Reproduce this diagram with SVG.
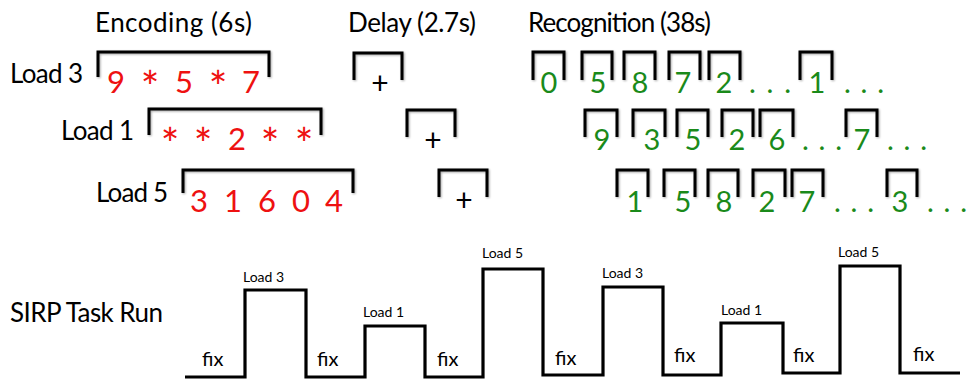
<svg xmlns="http://www.w3.org/2000/svg" width="971" height="384" viewBox="0 0 971 384">
<defs>
<filter id="sh" x="-20%" y="-20%" width="140%" height="140%">
<feGaussianBlur in="SourceAlpha" stdDeviation="1.2"/>
<feOffset dx="0.5" dy="1" result="b"/>
<feComponentTransfer><feFuncA type="linear" slope="0.35"/></feComponentTransfer>
<feMerge><feMergeNode/><feMergeNode in="SourceGraphic"/></feMerge>
</filter>
</defs>
<style>
text{font-family:Lato,"Open Sans","Liberation Sans",sans-serif}
.t{font-size:26px;fill:#000}
.ld{font-size:26px;fill:#000}
.r{font-size:31px;fill:#ee1111;text-anchor:middle}
.a{font-size:44px;fill:#ee1111;text-anchor:middle}
.g{font-size:29px;fill:#1a8a1a;text-anchor:middle}
.gd{font-size:29px;fill:#1a8a1a}
.p{font-size:30px;fill:#000;text-anchor:middle}
.br{fill:none;stroke:#000;stroke-width:3;filter:url(#sh)}
.w{fill:none;stroke:#000;stroke-width:3.2;stroke-linejoin:miter}
.sl{font-size:14px;fill:#000}
.fx{font-size:20px;fill:#000}
</style>
<rect width="971" height="384" fill="#fff"/>

<g id="titles">
<text class="t" x="95" y="32" textLength="157">Encoding (6s)</text>
<text class="t" x="348" y="32" textLength="128">Delay (2.7s)</text>
<text class="t" x="528" y="32" textLength="183">Recognition (38s)</text>
</g>

<g id="load3-row">
<text class="ld" x="10" y="83" textLength="73">Load 3</text>
<path class="br" d="M98 77V52H269V77"/>
<text class="r" x="116" y="93">9</text><text class="a" x="150" y="103">*</text><text class="r" x="184" y="93">5</text><text class="a" x="218" y="103">*</text><text class="r" x="251" y="93">7</text>
<path class="br" d="M354 80V53H402V80"/>
<text class="p" x="380" y="94">+</text>
<path class="br" d="M533 80V52H564V80M582 80V52H612V80M624 80V52H655V80M669 80V52H700V80M709 80V52H740V80M800 80V52H832V80"/>
<text class="g" x="549" y="93">0</text><text class="g" x="598" y="93">5</text><text class="g" x="640" y="93">8</text><text class="g" x="683" y="93">7</text><text class="g" x="724" y="93">2</text><text class="g" x="817" y="93">1</text>
<text class="gd" x="749" y="93" textLength="42">. . .</text>
<text class="gd" x="844" y="93" textLength="40">. . .</text>
</g>

<g id="load1-row">
<text class="ld" x="61" y="140" textLength="73">Load 1</text>
<path class="br" d="M149 135V109H321V135"/>
<text class="a" x="170" y="160">*</text><text class="a" x="203" y="160">*</text><text class="r" x="237" y="150">2</text><text class="a" x="270" y="160">*</text><text class="a" x="304" y="160">*</text>
<path class="br" d="M407 137V110H455V137"/>
<text class="p" x="433" y="151">+</text>
<path class="br" d="M585 137V110H617V137M633 137V110H665V137M677 137V110H708V137M722 137V110H753V137M760 137V110H793V137M846 137V110H877V137"/>
<text class="g" x="602" y="150">9</text><text class="g" x="652" y="150">3</text><text class="g" x="693" y="150">5</text><text class="g" x="737" y="150">2</text><text class="g" x="777" y="150">6</text><text class="g" x="862" y="150">7</text>
<text class="gd" x="802" y="150" textLength="40">. . .</text>
<text class="gd" x="887" y="150" textLength="40">. . .</text>
</g>

<g id="load5-row">
<text class="ld" x="96" y="202" textLength="72">Load 5</text>
<path class="br" d="M183 193V170H353V193"/>
<text class="r" x="199" y="212">3</text><text class="r" x="233" y="212">1</text><text class="r" x="267" y="212">6</text><text class="r" x="301" y="212">0</text><text class="r" x="334" y="212">4</text>
<path class="br" d="M439 197V170H487V197"/>
<text class="p" x="464" y="211">+</text>
<path class="br" d="M617 197V170H648V197M664 197V170H695V197M708 197V170H738V197M753 197V170H785V197M792 197V170H823V197M887 197V170H917V197"/>
<text class="g" x="635" y="212">1</text><text class="g" x="683" y="212">5</text><text class="g" x="724" y="212">8</text><text class="g" x="767" y="212">2</text><text class="g" x="807" y="212">7</text><text class="g" x="900" y="212">3</text>
<text class="gd" x="834" y="212" textLength="40">. . .</text>
<text class="gd" x="927" y="212" textLength="40">. . .</text>
</g>

<g id="task-run">
<text class="ld" x="10" y="322" textLength="153">SIRP Task Run</text>
<polyline class="w" points="185,377 245,377 245,290 306,290 306,377 365,377 365,326 425,326 425,377 483,377 483,269 543,269 543,375 603,375 603,287 663,287 663,375 721,375 721,323 783,323 783,373 840,373 840,266 900,266 900,373 960,373"/>
<text class="sl" x="243" y="282">Load 3</text>
<text class="sl" x="363" y="317">Load 1</text>
<text class="sl" x="482" y="258">Load 5</text>
<text class="sl" x="602" y="278">Load 3</text>
<text class="sl" x="721" y="315">Load 1</text>
<text class="sl" x="838" y="257">Load 5</text>
<text class="fx" x="202" y="366">fix</text>
<text class="fx" x="317" y="366">fix</text>
<text class="fx" x="437" y="366">fix</text>
<text class="fx" x="555" y="365">fix</text>
<text class="fx" x="674" y="362">fix</text>
<text class="fx" x="793" y="362">fix</text>
<text class="fx" x="913" y="361">fix</text>
</g>
</svg>
